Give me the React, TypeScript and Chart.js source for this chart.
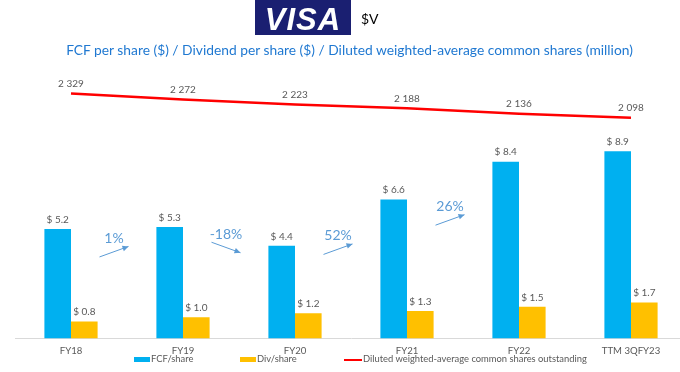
import React, { useEffect, useRef } from "react";
import { Chart, registerables } from "chart.js";

Chart.register(...registerables);

// ---- data ----
const categories = ["FY18", "FY19", "FY20", "FY21", "FY22", "TTM 3QFY23"];
const fcfPerShare = [5.2, 5.3, 4.4, 6.6, 8.4, 8.9];
const divPerShare = [0.8, 1.0, 1.2, 1.3, 1.5, 1.7];
const dilutedShares = [2329, 2272, 2223, 2188, 2136, 2098];
const fcfChangeLabels = ["1%", "-18%", "52%", "26%"];
// level (in FCF $ units) at which each change arrow sits
const changeArrowLevel = [4.12, 4.32, 4.24, 5.63];

const seriesNames = {
  fcf: "FCF/share",
  div: "Div/share",
  shares: "Diluted weighted-average common shares outstanding",
};

const FONT = "Lato, 'Open Sans', sans-serif";
const BLUE = "#00b0f0";
const ORANGE = "#ffc000";
const RED = "#ff0000";
const GRAY = "#595959";
const ARROW = "#5b9bd5";

const fmtThousands = (v: number) =>
  String(v).replace(/\B(?=(\d{3})+(?!\d))/g, " ");

const labelsPlugin = {
  id: "valueLabels",
  afterDatasetsDraw(chart: any) {
    const { ctx } = chart;
    ctx.save();
    ctx.textAlign = "center";
    ctx.textBaseline = "middle";
    ctx.fillStyle = GRAY;
    ctx.font = `10px ${FONT}`;
    chart.data.datasets.forEach((ds: any, di: number) => {
      const meta = chart.getDatasetMeta(di);
      meta.data.forEach((el: any, i: number) => {
        const v = ds.data[i] as number;
        if (ds.type === "line") {
          ctx.fillText(fmtThousands(v), el.x, el.y - 9.5);
        } else {
          ctx.fillText("$ " + v.toFixed(1), el.x, el.y - 9.5);
        }
      });
    });

    // change arrows between FCF bars
    const xs = chart.scales.x;
    const ys = chart.scales.y;
    ctx.strokeStyle = ARROW;
    ctx.fillStyle = ARROW;
    fcfChangeLabels.forEach((lab, i) => {
      const cx = (xs.getPixelForValue(i) + xs.getPixelForValue(i + 1)) / 2 - 13;
      const cy = ys.getPixelForValue(changeArrowLevel[i]);
      const up = !lab.startsWith("-");
      const x0 = cx - 14.5;
      const x1 = cx + 14.5;
      const y0 = cy + (up ? 5.25 : -5.25);
      const y1 = cy + (up ? -5.25 : 5.25);
      ctx.lineWidth = 1;
      ctx.beginPath();
      ctx.moveTo(x0, y0);
      ctx.lineTo(x1, y1);
      ctx.stroke();
      const ang = Math.atan2(y1 - y0, x1 - x0);
      const L = 6;
      const W = 2.8;
      ctx.beginPath();
      ctx.moveTo(x1, y1);
      ctx.lineTo(
        x1 - L * Math.cos(ang) + W * Math.sin(ang),
        y1 - L * Math.sin(ang) - W * Math.cos(ang)
      );
      ctx.lineTo(
        x1 - L * Math.cos(ang) - W * Math.sin(ang),
        y1 - L * Math.sin(ang) + W * Math.cos(ang)
      );
      ctx.closePath();
      ctx.fill();
      ctx.font = `14px ${FONT}`;
      ctx.fillText(lab, cx, cy - 13.5);
    });
    ctx.restore();
  },
};

export default function App() {
  const ref = useRef<HTMLCanvasElement>(null);

  useEffect(() => {
    document.body.style.margin = "0";
    const chart = new Chart(ref.current as HTMLCanvasElement, {
      data: {
        labels: categories,
        datasets: [
          {
            type: "line",
            label: seriesNames.shares,
            data: dilutedShares,
            yAxisID: "y2",
            borderColor: RED,
            backgroundColor: RED,
            borderWidth: 2.5,
            pointRadius: 0,
            tension: 0,
            order: 0,
          },
          {
            type: "bar",
            label: seriesNames.fcf,
            data: fcfPerShare,
            yAxisID: "y",
            backgroundColor: BLUE,
            order: 1,
          },
          {
            type: "bar",
            label: seriesNames.div,
            data: divPerShare,
            yAxisID: "y",
            backgroundColor: ORANGE,
            order: 1,
          },
        ],
      } as any,
      options: {
        responsive: false,
        animation: false,
        layout: { padding: { left: 15, right: 13, top: 75.4, bottom: 8.1 } },
        datasets: { bar: { categoryPercentage: 0.475, barPercentage: 1 } },
        plugins: {
          legend: { display: false },
          tooltip: { enabled: false },
          title: { display: false },
        },
        scales: {
          x: {
            grid: { display: false, drawTicks: false },
            border: { display: true, color: "#d9d9d9", width: 1 },
            ticks: {
              color: GRAY,
              font: { family: FONT, size: 9.6 },
              padding: 7,
              maxRotation: 0,
              autoSkip: false,
            },
          },
          y: { display: false, min: 0, max: 12.5 },
          y2: { display: false, min: 0, max: 2500, position: "right" },
        },
      } as any,
      plugins: [labelsPlugin],
    });
    return () => chart.destroy();
  }, []);

  const legendText: React.CSSProperties = {
    position: "absolute",
    top: 352.5,
    fontFamily: FONT,
    fontSize: 9.4,
    lineHeight: "12px",
    color: GRAY,
    whiteSpace: "nowrap",
  };

  return (
    <div
      style={{
        position: "relative",
        width: 680,
        height: 372,
        overflow: "hidden",
        background: "#ffffff",
      }}
    >
      <canvas
        ref={ref}
        width={700}
        height={372}
        style={{ position: "absolute", left: 0, top: 0, display: "block" }}
      />
      {/* logo */}
      <div
        style={{
          position: "absolute",
          left: 255,
          top: 0,
          width: 96,
          height: 35,
          background: "#1a1f71",
        }}
      >
        <div
          style={{
            position: "absolute",
            left: 0,
            top: 1.5,
            width: 96,
            textAlign: "center",
            lineHeight: "35px",
            fontFamily: "'Liberation Sans', Arial, sans-serif",
            fontWeight: 700,
            fontStyle: "italic",
            fontSize: 31,
            color: "#ffffff",
            letterSpacing: 1,
          }}
        >
          VISA
        </div>
      </div>
      <div
        style={{
          position: "absolute",
          left: 361,
          top: 11,
          fontFamily: FONT,
          fontSize: 14,
          lineHeight: "16px",
          color: "#000",
        }}
      >
        $V
      </div>
      {/* title */}
      <div
        style={{
          position: "absolute",
          left: 0,
          top: 40.6,
          width: 699,
          textAlign: "center",
          fontFamily: FONT,
          fontSize: 13.8,
          lineHeight: "18px",
          color: "#1f78d1",
          whiteSpace: "nowrap",
        }}
      >
        FCF per share ($) / Dividend per share ($) / Diluted weighted-average common shares (million)
      </div>
      {/* legend */}
      <div style={{ position: "absolute", left: 134, top: 357, width: 16, height: 5, background: BLUE }} />
      <div style={{ ...legendText, left: 151 }}>{seriesNames.fcf}</div>
      <div style={{ position: "absolute", left: 240, top: 357, width: 16, height: 5, background: ORANGE }} />
      <div style={{ ...legendText, left: 257 }}>{seriesNames.div}</div>
      <div style={{ position: "absolute", left: 344, top: 358.5, width: 18, height: 2, background: RED }} />
      <div style={{ ...legendText, left: 363 }}>{seriesNames.shares}</div>
    </div>
  );
}
